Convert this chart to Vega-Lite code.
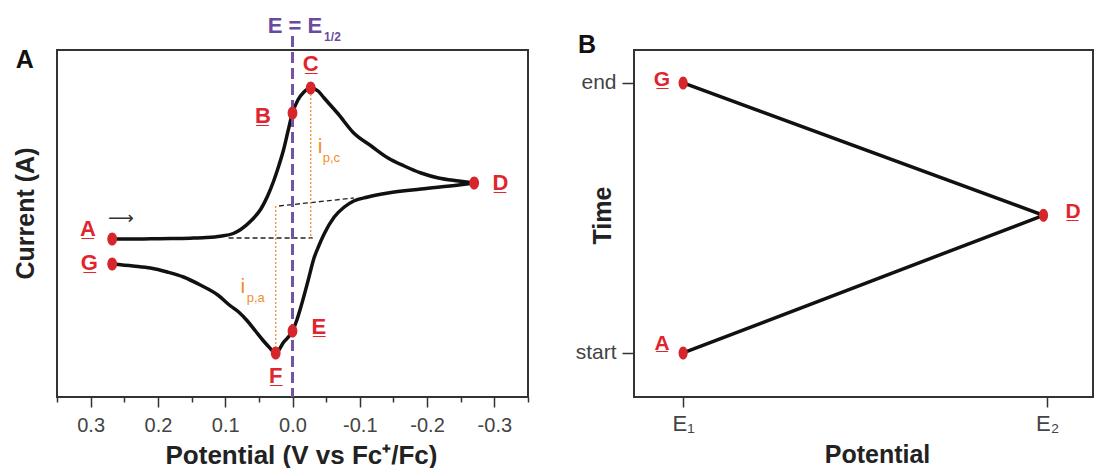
{
  "$schema": "https://vega.github.io/schema/vega-lite/v6.json",
  "padding": {"left": 12, "top": 14, "right": 0, "bottom": 0},
  "background": "white",
  "spacing": 106,
  "bounds": "flush",
  "config": {
    "font": "Liberation Sans",
    "view": {"stroke": "#333333", "strokeWidth": 2},
    "axis": {"grid": false, "domain": false, "tickColor": "#333333", "tickWidth": 1.5, "labelColor": "#444444", "labelFont": "Liberation Sans", "labelFontSize": 20, "titleFont": "Liberation Sans", "titleFontSize": 25, "titleFontWeight": "bold", "titleColor": "#222222", "labelOverlap": false, "labelFlush": false}
  },
  "hconcat": [
    {
      "width": 471,
      "height": 347,
      "encoding": {
        "x": {"field": "E", "type": "quantitative",
          "scale": {"domain": [-0.35, 0.35], "reverse": true, "nice": false, "zero": false},
          "axis": {"values": [0.35, 0.3, 0.25, 0.2, 0.15, 0.1, 0.05, 0, -0.05, -0.1, -0.15, -0.2, -0.25, -0.3, -0.35],
            "labelExpr": "abs(round(datum.value*20))%2==1 ? '' : replace(format(datum.value,'.1f'),'−','-')",
            "tickSize": {"condition": {"test": "abs(round(datum.value*20))%2==1", "value": 5}, "value": 10},
            "labelPadding": 8,
            "title": "Potential (V vs Fc⁺/Fc)", "titleFontSize": 26, "titleX": 244, "titleY": 58, "titleBaseline": "middle", "titleAlign": "center"}},
        "y": {"field": "I", "type": "quantitative",
          "scale": {"domain": [-15.8, 18.9], "nice": false, "zero": false},
          "axis": {"labels": false, "ticks": false, "title": "Current (A)", "titleX": -32, "titleY": 163, "titleBaseline": "middle", "titleAlign": "center", "titleAngle": -90}}
      },
      "layer": [
        {
          "data": {"values": [
            {"seg": "c", "E": 0.095, "I": 0.1}, {"seg": "c", "E": -0.030, "I": 0.1},
            {"seg": "a", "E": 0.020, "I": 3.3}, {"seg": "a", "E": -0.091, "I": 4.1}
          ]},
          "mark": {"type": "line", "color": "#222222", "strokeWidth": 1.3, "strokeDash": [5, 3]},
          "encoding": {"detail": {"field": "seg"}}
        },
        {
          "data": {"values": [
            {"E": -0.027, "I": 14.5, "I2": 0.0},
            {"E": 0.025, "I": 3.3, "I2": -11.3}
          ]},
          "mark": {"type": "rule", "color": "#f29a4a", "strokeWidth": 1.5, "strokeDash": [2, 2]},
          "encoding": {"y2": {"field": "I2"}}
        },
        {
          "data": {"values": [
            {"scan": "fwd", "E": 0.268, "I": 0}, {"scan": "fwd", "E": 0.241, "I": 0}, {"scan": "fwd", "E": 0.211, "I": 0.02},
            {"scan": "fwd", "E": 0.181, "I": 0.04}, {"scan": "fwd", "E": 0.152, "I": 0.08}, {"scan": "fwd", "E": 0.129, "I": 0.14},
            {"scan": "fwd", "E": 0.107, "I": 0.28}, {"scan": "fwd", "E": 0.088, "I": 0.55}, {"scan": "fwd", "E": 0.077, "I": 0.95},
            {"scan": "fwd", "E": 0.062, "I": 1.8}, {"scan": "fwd", "E": 0.047, "I": 3.0}, {"scan": "fwd", "E": 0.037, "I": 4.3},
            {"scan": "fwd", "E": 0.028, "I": 5.8}, {"scan": "fwd", "E": 0.020, "I": 7.4},
            {"scan": "fwd", "E": 0.013, "I": 9.0}, {"scan": "fwd", "E": 0.007, "I": 10.7},
            {"scan": "fwd", "E": 0.000, "I": 12.6}, {"scan": "fwd", "E": -0.008, "I": 13.9}, {"scan": "fwd", "E": -0.017, "I": 14.7},
            {"scan": "fwd", "E": -0.027, "I": 15.1}, {"scan": "fwd", "E": -0.038, "I": 14.8}, {"scan": "fwd", "E": -0.047, "I": 14.1},
            {"scan": "fwd", "E": -0.068, "I": 12.5}, {"scan": "fwd", "E": -0.091, "I": 10.6}, {"scan": "fwd", "E": -0.117, "I": 9.3},
            {"scan": "fwd", "E": -0.142, "I": 8.1}, {"scan": "fwd", "E": -0.166, "I": 7.3}, {"scan": "fwd", "E": -0.191, "I": 6.6},
            {"scan": "fwd", "E": -0.217, "I": 6.1}, {"scan": "fwd", "E": -0.247, "I": 5.8}, {"scan": "fwd", "E": -0.270, "I": 5.6},
            {"scan": "rev", "E": -0.270, "I": 5.6}, {"scan": "rev", "E": -0.247, "I": 5.4}, {"scan": "rev", "E": -0.191, "I": 5.0},
            {"scan": "rev", "E": -0.142, "I": 4.6}, {"scan": "rev", "E": -0.112, "I": 4.2}, {"scan": "rev", "E": -0.091, "I": 3.8},
            {"scan": "rev", "E": -0.077, "I": 3.2}, {"scan": "rev", "E": -0.062, "I": 2.2}, {"scan": "rev", "E": -0.047, "I": 0.5},
            {"scan": "rev", "E": -0.039, "I": -0.7}, {"scan": "rev", "E": -0.032, "I": -1.9}, {"scan": "rev", "E": -0.023, "I": -4.2},
            {"scan": "rev", "E": -0.012, "I": -6.9}, {"scan": "rev", "E": -0.0065, "I": -8.1}, {"scan": "rev", "E": 0.000, "I": -9.2},
            {"scan": "rev", "E": 0.013, "I": -10.3}, {"scan": "rev", "E": 0.025, "I": -11.4}, {"scan": "rev", "E": 0.035, "I": -10.8},
            {"scan": "rev", "E": 0.043, "I": -10.2}, {"scan": "rev", "E": 0.055, "I": -9.2}, {"scan": "rev", "E": 0.067, "I": -8.2},
            {"scan": "rev", "E": 0.080, "I": -7.3}, {"scan": "rev", "E": 0.092, "I": -6.7}, {"scan": "rev", "E": 0.111, "I": -5.6},
            {"scan": "rev", "E": 0.137, "I": -4.6}, {"scan": "rev", "E": 0.162, "I": -3.8}, {"scan": "rev", "E": 0.186, "I": -3.3},
            {"scan": "rev", "E": 0.211, "I": -2.9}, {"scan": "rev", "E": 0.237, "I": -2.7}, {"scan": "rev", "E": 0.268, "I": -2.5}
          ]},
          "mark": {"type": "line", "color": "#111111", "strokeWidth": 3.5, "interpolate": "monotone"},
          "encoding": {"detail": {"field": "scan"}}
        },
        {
          "data": {"values": [{"E": 0, "I": 20.3, "I2": -15.8}]},
          "mark": {"type": "rule", "color": "#7352a8", "strokeWidth": 3, "strokeDash": [11, 5]},
          "encoding": {"y2": {"field": "I2"}}
        },
        {
          "data": {"values": [
            {"pt": "A", "E": 0.268, "I": 0}, {"pt": "B", "E": 0.000, "I": 12.6}, {"pt": "C", "E": -0.027, "I": 15.1},
            {"pt": "D", "E": -0.270, "I": 5.6}, {"pt": "E", "E": 0.000, "I": -9.2}, {"pt": "F", "E": 0.025, "I": -11.4},
            {"pt": "G", "E": 0.268, "I": -2.5}
          ]},
          "mark": {"type": "point", "filled": true, "opacity": 1, "color": "#d7262b", "size": 170, "shape": "M -0.75 0 A 0.75 1 0 1 0 0.75 0 A 0.75 1 0 1 0 -0.75 0 Z"}
        },
        {
          "data": {"values": [
            {"lab": "A\u0332", "E": 0.304, "I": 1.0}, {"lab": "G\u0332", "E": 0.302, "I": -2.4},
            {"lab": "B\u0332", "E": 0.044, "I": 12.3}, {"lab": "C\u0332", "E": -0.027, "I": 17.5},
            {"lab": "D\u0332", "E": -0.309, "I": 5.6}, {"lab": "E\u0332", "E": -0.039, "I": -8.8},
            {"lab": "F\u0332", "E": 0.025, "I": -13.7}
          ]},
          "mark": {"type": "text", "color": "#e0252e", "fontSize": 22, "fontWeight": "bold", "align": "center", "baseline": "middle"},
          "encoding": {"text": {"field": "lab"}}
        },
        {
          "data": {"values": [{"lab": "⟶", "E": 0.255, "I": 2.0}]},
          "mark": {"type": "text", "color": "#333333", "fontSize": 18, "font": "DejaVu Sans", "align": "center", "baseline": "middle"},
          "encoding": {"text": {"field": "lab"}}
        },
        {
          "data": {"values": [{"lab": "A", "E": 0.398, "I": 17.9}]},
          "mark": {"type": "text", "color": "#111111", "fontSize": 25, "fontWeight": "bold", "align": "center", "baseline": "middle"},
          "encoding": {"text": {"field": "lab"}}
        },
        {
          "data": {"values": [{"lab": "E = E", "E": -0.044, "I": 20.6}]},
          "mark": {"type": "text", "color": "#6a4a9c", "fontSize": 22, "fontWeight": "bold", "align": "right", "baseline": "alphabetic"},
          "encoding": {"text": {"field": "lab"}}
        },
        {
          "data": {"values": [{"lab": "1/2", "E": -0.047, "I": 19.8}]},
          "mark": {"type": "text", "color": "#6a4a9c", "fontSize": 12, "fontWeight": "bold", "align": "left", "baseline": "alphabetic"},
          "encoding": {"text": {"field": "lab"}}
        },
        {
          "data": {"values": [{"lab": "i", "E": -0.041, "I": 8.6}, {"lab": "i", "E": 0.074, "I": -5.4}]},
          "mark": {"type": "text", "color": "#f28e2b", "fontSize": 21, "align": "center", "baseline": "alphabetic"},
          "encoding": {"text": {"field": "lab"}}
        },
        {
          "data": {"values": [{"lab": "p,c", "E": -0.045, "I": 7.7}, {"lab": "p,a", "E": 0.068, "I": -6.3}]},
          "mark": {"type": "text", "color": "#f28e2b", "fontSize": 13, "align": "left", "baseline": "alphabetic"},
          "encoding": {"text": {"field": "lab"}}
        }
      ]
    },
    {
      "width": 459,
      "height": 347,
      "encoding": {
        "x": {"field": "E", "type": "quantitative",
          "scale": {"domain": [-0.135, 1.126], "nice": false, "zero": false},
          "axis": {"values": [0, 1], "labelExpr": "datum.value==0 ? 'E₁' : 'E₂'", "labelFontSize": 22, "tickSize": 10, "labelPadding": 6,
            "title": "Potential", "titleX": 243, "titleY": 57, "titleBaseline": "middle", "titleAlign": "center"}},
        "y": {"field": "T", "type": "quantitative",
          "scale": {"domain": [-0.163, 1.122], "nice": false, "zero": false},
          "axis": {"values": [0, 1], "labelExpr": "datum.value==0 ? 'start' : 'end'", "tickSize": 12, "labelPadding": 6, "labelFontSize": 21,
            "title": "Time", "titleX": -32, "titleY": 165, "titleBaseline": "middle", "titleAlign": "center", "titleAngle": -90}}
      },
      "layer": [
        {
          "data": {"values": [
            {"pt": "A", "E": 0, "T": 0}, {"pt": "D", "E": 0.99, "T": 0.51}, {"pt": "G", "E": 0, "T": 1}
          ]},
          "mark": {"type": "line", "color": "#111111", "strokeWidth": 3.5},
          "encoding": {"order": {"field": "T"}}
        },
        {
          "data": {"values": [
            {"pt": "A", "E": 0, "T": 0}, {"pt": "D", "E": 0.99, "T": 0.51}, {"pt": "G", "E": 0, "T": 1}
          ]},
          "mark": {"type": "point", "filled": true, "opacity": 1, "color": "#d7262b", "size": 170, "shape": "M -0.7 0 A 0.7 1 0 1 0 0.7 0 A 0.7 1 0 1 0 -0.7 0 Z"}
        },
        {
          "data": {"values": [
            {"lab": "G\u0332", "E": -0.058, "T": 1.011}, {"lab": "A\u0332", "E": -0.058, "T": 0.035},
            {"lab": "D\u0332", "E": 1.071, "T": 0.522}
          ]},
          "mark": {"type": "text", "color": "#e0252e", "fontSize": 21, "fontWeight": "bold", "align": "center", "baseline": "middle"},
          "encoding": {"text": {"field": "lab"}}
        },
        {
          "data": {"values": [{"lab": "B", "E": -0.264, "T": 1.141}]},
          "mark": {"type": "text", "color": "#111111", "fontSize": 25, "fontWeight": "bold", "align": "center", "baseline": "middle"},
          "encoding": {"text": {"field": "lab"}}
        }
      ]
    }
  ]
}
